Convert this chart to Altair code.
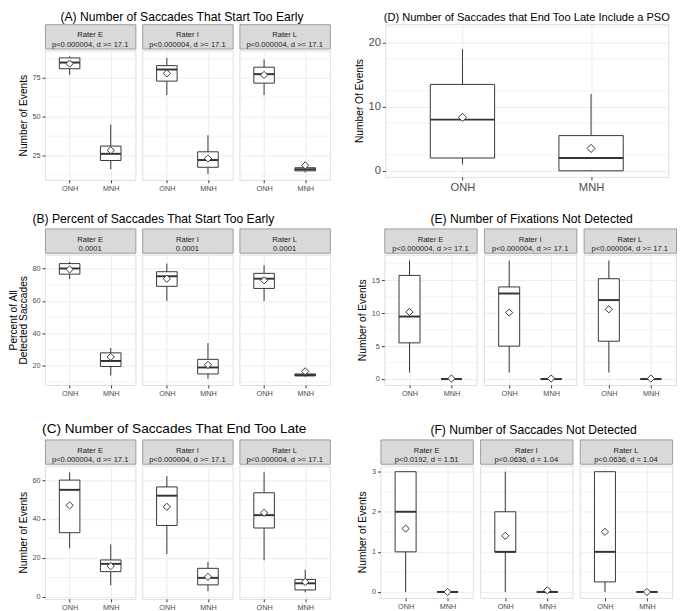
import altair as alt
import pandas as pd

FONT = "Liberation Sans"
RATERS = ["E", "I", "L"]
GROUPS = ["ONH", "MNH"]

# order of values: E-ONH, E-MNH, I-ONH, I-MNH, L-ONH, L-MNH
A_min = [77, 16, 64, 13, 64, 14]
A_q1 = [81, 21.7, 73, 17.3, 71.7, 15]
A_med = [85, 26, 80.5, 22, 77.5, 16]
A_q3 = [88, 31, 83, 27.3, 82, 17]
A_max = [89, 45, 88, 38, 87, 18]
A_mean = [84.3, 28.3, 78, 23, 77, 18.5]
A_strip = ["p<0.000004, d >= 17.1", "p<0.000004, d >= 17.1", "p<0.000004, d >= 17.1"]

B_min = [73.5, 14, 60, 12, 60, 13.3]
B_q1 = [76.5, 19.6, 69, 15, 67.7, 13.8]
B_med = [80, 23, 75.2, 19, 73.7, 14.3]
B_q3 = [83, 28, 78, 24, 77, 15]
B_max = [84, 31, 83, 34, 82, 15.5]
B_mean = [79.4, 25.5, 73.7, 20.6, 72.7, 16.6]
B_strip = ["0.0001", "0.0001", "0.0001"]

C_min = [25, 6, 22, 2.9, 18.8, 2.4]
C_q1 = [33, 13, 36.7, 6.2, 35.4, 3.6]
C_med = [55, 17, 52, 9.8, 42, 7]
C_q3 = [60, 19, 56.5, 14.7, 53.5, 9]
C_max = [64, 27, 62, 18, 64, 14]
C_mean = [47, 15.8, 46.3, 10.3, 43.2, 7.7]
C_strip = ["p<0.000004, d >= 17.1", "p<0.000004, d >= 17.1", "p<0.000004, d >= 17.1"]

D_min = [1, 0]
D_q1 = [2, 0]
D_med = [8, 2]
D_q3 = [13.5, 5.5]
D_max = [19, 12]
D_mean = [8.35, 3.5]

E_min = [1, 0, 1, 0, 1, 0]
E_q1 = [5.5, 0, 5, 0, 5.75, 0]
E_med = [9.5, 0, 13, 0, 12, 0]
E_q3 = [15.75, 0, 14, 0, 15.25, 0]
E_max = [18, 0, 18, 0, 18, 0]
E_mean = [10.2, 0.08, 10.1, 0.08, 10.6, 0.08]
E_strip = ["p<0.000004, d >= 17.1", "p<0.000004, d >= 17.1", "p<0.000004, d >= 17.1"]

F_min = [0, 0, 0, 0, 0, 0]
F_q1 = [1, 0, 1, 0, 0.25, 0]
F_med = [2, 0, 1, 0, 1, 0]
F_q3 = [3, 0, 2, 0, 3, 0]
F_max = [3, 0, 3, 0, 3, 0]
F_mean = [1.58, 0, 1.4, 0.04, 1.5, 0]
F_strip = ["p<0.0192, d = 1.51", "p<0.0636, d = 1.04", "p<0.0636, d = 1.04"]

A_ticks, A_minor, A_dom = [25, 50, 75], [12.5, 37.5, 62.5, 87.5], [9.2, 92.8]
B_ticks, B_minor, B_dom = [20, 40, 60, 80], [10, 30, 50, 70], [8.2, 88.5]
C_ticks, C_minor, C_dom = [0, 20, 40, 60], [10, 30, 50], [-1, 67.4]
D_ticks, D_minor, D_dom = [0, 5, 10, 15, 20], [2.5, 7.5, 12.5, 17.5, 22.5], [-0.95, 22.9]
E_ticks, E_minor, E_dom = [0, 5, 10, 15], [2.5, 7.5, 12.5, 17.5], [-0.9, 18.9]
F_ticks, F_minor, F_dom = [0, 1, 2, 3], [0.5, 1.5, 2.5], [-0.15, 3.15]

GRID = "#EBEBEB"
LINE = "#333333"
BORDER = "#9A9A9A"
SH = 25


def frame(raters, mins, q1, med, q3, maxs, means):
    rows = []
    k = 0
    for r in raters:
        for g in GROUPS:
            rows.append(dict(rater=r, group=g, lo=mins[k], q1=q1[k], med=med[k],
                             q3=q3[k], hi=maxs[k], mean=means[k]))
            k += 1
    return pd.DataFrame(rows)


def box_layers(df, dom, ticks, minor, show_y, ytitle, big=False):
    ys = alt.Scale(domain=dom, nice=False, zero=False)
    xs = alt.Scale(domain=[0.4, 2.6], nice=False, zero=False)
    lab = 11.5 if big else 7.5
    xaxis = alt.Axis(values=[1, 2], labelExpr="datum.value == 1 ? 'ONH' : 'MNH'",
                     grid=True, gridColor=GRID, gridWidth=1, title=None, domain=False,
                     tickColor=LINE, tickSize=3, labelColor="#4D4D4D", labelFontSize=lab,
                     labelFont=FONT, labelPadding=2, labelFlush=False)
    if show_y:
        yaxis = alt.Axis(values=ticks, grid=True, gridColor=GRID, gridWidth=1, title=ytitle,
                         domain=False, tickColor=LINE, tickSize=3, labelColor="#4D4D4D",
                         labelFontSize=lab, labelFont=FONT, labelPadding=2,
                         titleFont=FONT, titleFontSize=10.5, titleFontWeight="normal",
                         titleColor="black", titlePadding=4, titleLineHeight=10,
                         labelFlush=False)
    else:
        yaxis = alt.Axis(values=ticks, grid=True, gridColor=GRID, gridWidth=1, title=None,
                         domain=False, ticks=False, labels=False)
    base = alt.Chart(df).transform_calculate(
        xi="datum.group == 'ONH' ? 1 : 2",
        xl="(datum.group == 'ONH' ? 1 : 2) - 0.25",
        xr="(datum.group == 'ONH' ? 1 : 2) + 0.25",
    )
    mgrid = alt.Chart(pd.DataFrame({"v": minor})).mark_rule(color=GRID, strokeWidth=0.6).encode(
        y=alt.Y("v:Q", scale=ys, axis=yaxis)
    )
    whisk = base.mark_rule(color=LINE, strokeWidth=1).encode(
        x=alt.X("xi:Q", scale=xs, axis=xaxis),
        y=alt.Y("lo:Q", scale=ys), y2="hi:Q")
    box = base.mark_rect(fill="white", stroke=LINE, strokeWidth=1).encode(
        x=alt.X("xl:Q", scale=xs), x2="xr:Q", y=alt.Y("q1:Q", scale=ys), y2="q3:Q")
    medl = base.mark_rule(color=LINE, strokeWidth=2).encode(
        x=alt.X("xl:Q", scale=xs), x2="xr:Q", y=alt.Y("med:Q", scale=ys))
    mean = base.mark_point(shape="diamond", filled=True, fill="white", stroke=LINE,
                           strokeWidth=1, size=70 if big else 55, opacity=1).encode(
        x=alt.X("xi:Q", scale=xs), y=alt.Y("mean:Q", scale=ys))
    return [mgrid, whisk, box, medl, mean]


def sub_panel(df, rater, strip, dom, ticks, minor, show_y, ytitle, w, h):
    d = df[df.rater == rater]
    plot = alt.layer(*box_layers(d, dom, ticks, minor, show_y, ytitle)).properties(
        width=w, height=h)
    sdf = pd.DataFrame({"t": [f"Rater {rater}\n{strip}"]})
    stext = alt.Chart(sdf).mark_text(lineBreak="\n", font=FONT, fontSize=7.8, color="#1A1A1A",
                                     baseline="middle", lineHeight=9.5).encode(
        x=alt.value(w / 2), y=alt.value(SH / 2 - 1), text="t:N").properties(
        width=w, height=SH, view=alt.ViewBackground(fill="#D9D9D9", stroke=BORDER))
    return alt.vconcat(stext, plot, spacing=0)


def panel(label, df, strips, dom, ticks, minor, ytitle, w, h, gap, fs=12.5,
          anchor="middle", dx=0, offset=3):
    subs = [sub_panel(df, r, strips[i], dom, ticks, minor, i == 0, ytitle, w, h)
            for i, r in enumerate(RATERS)]
    return alt.hconcat(*subs, spacing=gap).properties(
        title=alt.TitleParams(label, font=FONT, fontSize=fs, fontWeight="normal",
                              color="black", anchor=anchor, offset=offset, dx=dx))


dfA = frame(RATERS, A_min, A_q1, A_med, A_q3, A_max, A_mean)
dfB = frame(RATERS, B_min, B_q1, B_med, B_q3, B_max, B_mean)
dfC = frame(RATERS, C_min, C_q1, C_med, C_q3, C_max, C_mean)
dfE = frame(RATERS, E_min, E_q1, E_med, E_q3, E_max, E_mean)
dfF = frame(RATERS, F_min, F_q1, F_med, F_q3, F_max, F_mean)
dfD = pd.DataFrame(dict(rater="all", group=GROUPS, lo=D_min, q1=D_q1, med=D_med,
                        q3=D_q3, hi=D_max, mean=D_mean))

pA = panel("(A) Number of Saccades That Start Too Early", dfA, A_strip, A_dom, A_ticks,
           A_minor, "Number of Events", 93, 133, 5, offset=0, dx=8)
pB = panel("(B) Percent of Saccades That Start Too Early", dfB, B_strip, B_dom, B_ticks,
           B_minor, ["Percent of All", "Detected Saccades"], 93, 134, 5,
           anchor="start", dx=25)
pC = panel("(C) Number of Saccades That End Too Late", dfC, C_strip, C_dom, C_ticks,
           C_minor, "Number of Events", 93, 137, 5, fs=14)
pE = panel("(E) Number of Fixations Not Detected", dfE, E_strip, E_dom, E_ticks,
           E_minor, "Number of Events", 95, 134, 5.5, dx=15)
pF = panel("(F) Number of Saccades Not Detected", dfF, F_strip, F_dom, F_ticks,
           F_minor, "Number of Events", 95, 136, 5.5, dx=19)

pD = alt.layer(*box_layers(dfD, D_dom, D_ticks, D_minor, True, "Number Of Events",
                           big=True)).properties(
    width=291, height=157,
    title=alt.TitleParams("(D) Number of Saccades that End Too Late Include a PSO", font=FONT,
                          fontSize=11.4, fontWeight="normal", color="black", anchor="middle",
                          offset=1))

row1 = alt.hconcat(pA, pD, spacing=23)
row2 = alt.hconcat(pB, pE, spacing=27)
row3 = alt.hconcat(pC, pF, spacing=27)

top = alt.vconcat(row1, row2, spacing=20)

chart = alt.vconcat(top, row3, spacing=25).properties(
    padding={"left": 0, "top": -5, "right": 0, "bottom": 0}
).configure_view(stroke=BORDER, strokeWidth=1).configure(background="white")

chart.save("out.html", embed_options={"renderer": "svg", "actions": False})
